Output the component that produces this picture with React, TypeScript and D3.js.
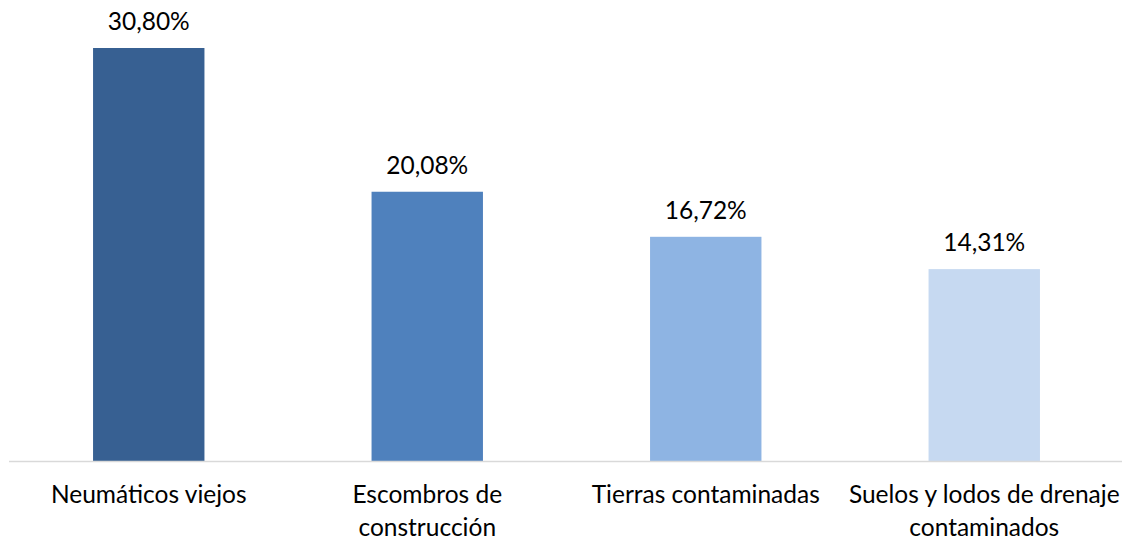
import React from "react";
import * as d3 from "d3";

const categories: string[][] = [
  ["Neumáticos viejos"],
  ["Escombros de", "construcción"],
  ["Tierras contaminadas"],
  ["Suelos y lodos de drenaje", "contaminados"],
];
const values: number[] = [30.8, 20.08, 16.72, 14.31];
const colors: string[] = ["#376092", "#4F81BD", "#8EB4E3", "#C6D9F1"];

const W = 1122;
const H = 542;
const FONT = "Lato, 'Open Sans', sans-serif";

export default function App() {
  const keys = categories.map((c) => c.join(" "));
  const x = d3.scaleBand<string>().domain(keys).range([9.5, 1123.5]).paddingInner(0.6).paddingOuter(0.3);
  const baseY = 461;
  const y = d3.scaleLinear().domain([0, 30.8]).range([baseY, 48]);
  const fmt = (v: number) => d3.format(".2f")(v).replace(".", ",") + "%";
  return (
    <svg width={W} height={H} style={{ position: "absolute", left: 0, top: 0, background: "#fff" }} fontFamily={FONT}>
      {values.map((v, i) => (
        <rect key={i} x={x(keys[i])} y={y(v)} width={x.bandwidth()} height={baseY - y(v)} fill={colors[i]} />
      ))}
      <line x1={9} x2={1122} y1={baseY + 0.5} y2={baseY + 0.5} stroke="#D9D9D9" strokeWidth={1.5} />
      {values.map((v, i) => (
        <text key={"v" + i} x={(x(keys[i]) as number) + x.bandwidth() / 2} y={y(v) - 18} textAnchor="middle" fontSize={24.5} fill="#000">
          {fmt(v)}
        </text>
      ))}
      {categories.map((lines, i) => (
        <text key={"c" + i} x={(x(keys[i]) as number) + x.bandwidth() / 2} y={503} textAnchor="middle" fontSize={24.5} fill="#000">
          {lines.map((l, j) => (
            <tspan key={j} x={(x(keys[i]) as number) + x.bandwidth() / 2} dy={j === 0 ? 0 : 33}>
              {l}
            </tspan>
          ))}
        </text>
      ))}
    </svg>
  );
}
